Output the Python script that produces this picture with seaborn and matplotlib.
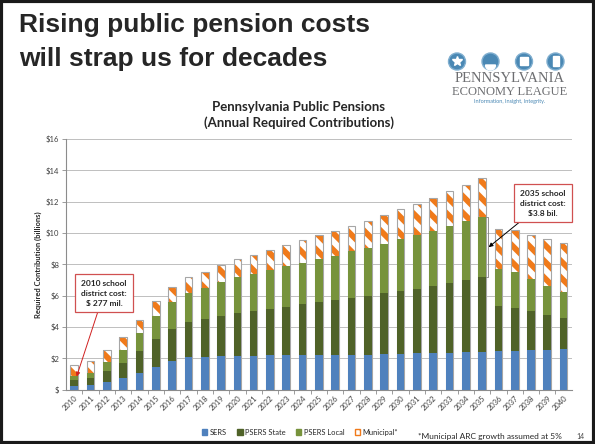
import matplotlib
matplotlib.use("Agg")
import matplotlib.pyplot as plt
import matplotlib.patches as mpatches
from matplotlib.ticker import FuncFormatter
import pandas as pd
import seaborn as sns

# Data (billions of dollars)
years = [str(y) for y in range(2010, 2041)]
sers = [0.23, 0.32, 0.51, 0.77, 1.09, 1.43, 1.81, 2.09, 2.10, 2.13, 2.17,
        2.17, 2.19, 2.21, 2.23, 2.23, 2.20, 2.20, 2.25, 2.28, 2.30,
        2.34, 2.36, 2.38, 2.43, 2.43, 2.49, 2.49, 2.55, 2.57, 2.62]
psers_state = [0.37, 0.42, 0.66, 0.97, 1.36, 1.80, 2.06, 2.23, 2.41, 2.55, 2.72,
               2.85, 2.96, 3.07, 3.22, 3.37, 3.50, 3.65, 3.71, 3.87, 4.00,
               4.11, 4.26, 4.41, 4.55, 4.74, 2.83, 2.72, 2.47, 2.20, 1.98]
psers_local = [0.30, 0.36, 0.60, 0.81, 1.17, 1.49, 1.73, 1.85, 1.96, 2.17, 2.30,
               2.38, 2.47, 2.59, 2.66, 2.76, 2.85, 2.98, 3.10, 3.17, 3.30,
               3.42, 3.53, 3.66, 3.76, 3.87, 2.38, 2.28, 2.04, 1.87, 1.63]
municipal = [0.70, 0.75, 0.76, 0.83, 0.85, 0.94, 0.97, 1.02, 1.06, 1.11, 1.15,
             1.20, 1.27, 1.36, 1.42, 1.51, 1.60, 1.62, 1.73, 1.83, 1.91,
             2.00, 2.11, 2.21, 2.35, 2.45, 2.53, 2.70, 2.81, 2.96, 3.13]

df = pd.DataFrame({"year": years, "sers": sers, "state": psers_state,
                   "local": psers_local, "muni": municipal})
df["c_sers"] = df["sers"]
df["c_state"] = df["c_sers"] + df["state"]
df["c_local"] = df["c_state"] + df["local"]
df["c_total"] = df["c_local"] + df["muni"]

blue = "#4F81BD"
dark_green = "#4F6228"
light_green = "#77933C"
orange = "#F07A1A"
grey = "#A6A6A6"

sns.set_style("white")
plt.rcParams["font.family"] = ["Lato", "DejaVu Sans"]
plt.rcParams["hatch.linewidth"] = 4.2

fig = plt.figure(figsize=(5.95, 4.44), dpi=100)
ax = fig.add_axes([0.111, 0.122, 0.85, 0.565])

w = 0.47
# stacked bars: draw cumulative totals from top layer down
sns.barplot(data=df, x="year", y="c_total", color="white", saturation=1,
            edgecolor=orange, hatch="\\\\", linewidth=0, width=w, errorbar=None, ax=ax)
sns.barplot(data=df, x="year", y="c_total", color=grey, fill=False,
            linewidth=0.8, width=w, errorbar=None, ax=ax)
sns.barplot(data=df, x="year", y="c_local", color=light_green, saturation=1,
            linewidth=0, width=w, errorbar=None, ax=ax)
sns.barplot(data=df, x="year", y="c_state", color=dark_green, saturation=1,
            linewidth=0, width=w, errorbar=None, ax=ax)
sns.barplot(data=df, x="year", y="c_sers", color=blue, saturation=1,
            linewidth=0, width=w, errorbar=None, ax=ax)

ax.set_xlim(-0.5, len(years) - 0.5)
ax.set_ylim(0, 16)
ax.set_yticks(range(0, 17, 2))
ax.yaxis.set_major_formatter(FuncFormatter(lambda v, p: "$" if v == 0 else f"${int(v)}"))
ax.grid(axis="y", color="#BFBFBF", linewidth=0.7)
ax.set_axisbelow(True)
for s in ["top", "right"]:
    ax.spines[s].set_visible(False)
for s in ["left", "bottom"]:
    ax.spines[s].set_color("#8C8C8C")
    ax.spines[s].set_linewidth(0.8)
ax.tick_params(axis="y", length=3, width=0.6, color="#8C8C8C", labelsize=5.5,
               labelcolor="#404040", pad=2, left=True)
ax.tick_params(axis="x", length=0, labelsize=5.5, labelcolor="#404040", pad=3)
plt.setp(ax.get_xticklabels(), rotation=45, ha="right", rotation_mode="anchor")
# tick marks between categories
ax.set_xticks([i + 0.5 for i in range(len(years) - 1)], minor=True)
ax.tick_params(axis="x", which="minor", length=3, width=0.6, color="#8C8C8C", bottom=True)
ax.set_xlabel("")
ax.set_ylabel("Required Contribution (billions)", fontsize=5.5, fontweight="bold",
              labelpad=3)

ax.set_title("Pennsylvania Public Pensions\n(Annual Required Contributions)",
             fontsize=9.5, fontweight="bold", pad=9, x=0.46, linespacing=1.25)

# bracket on 2035 local segment
i35 = years.index("2035")
bx = i35 + w / 2 + 0.12
y0, y1 = df.loc[i35, "c_state"], df.loc[i35, "c_local"]
ax.plot([bx - 0.1, bx, bx, bx - 0.1], [y1, y1, y0, y0], color="#7F7F7F", lw=0.6)

box = dict(boxstyle="square,pad=0.7", fc="white", ec="#D05050", lw=0.9)
ax.annotate("2010 school\ndistrict cost:\n$ 277 mil.", xy=(0.15, 0.85),
            xytext=(104, 151), textcoords="figure pixels", ha="center", va="center",
            fontsize=6, fontweight="bold", linespacing=1.5, bbox=box,
            arrowprops=dict(arrowstyle="-|>", color="#D02020", lw=0.7,
                            mutation_scale=6, shrinkA=0, shrinkB=0))
ax.annotate("2035 school\ndistrict cost:\n$3.8 bil.", xy=(bx + 0.05, 9.1),
            xytext=(543, 241), textcoords="figure pixels", ha="center", va="center",
            fontsize=6, fontweight="bold", linespacing=1.5, bbox=box,
            arrowprops=dict(arrowstyle="-|>", color="black", lw=0.7,
                            mutation_scale=6, shrinkA=0, shrinkB=0))

# legend
handles = [mpatches.Patch(color=blue, label="SERS"),
           mpatches.Patch(color=dark_green, label="PSERS State"),
           mpatches.Patch(color=light_green, label="PSERS Local"),
           mpatches.Patch(facecolor="white", edgecolor=orange, hatch="\\", label="Municipal*")]
fig.legend(handles=handles, loc="center", bbox_to_anchor=(300 / 595, 1 - 432 / 444),
           ncol=4, frameon=False, fontsize=5.4, handlelength=0.7, handleheight=0.7,
           handletextpad=0.3, columnspacing=1.4)

# slide decoration in pixel coordinates
ov = fig.add_axes([0, 0, 1, 1], zorder=-1)
ov.set_xlim(0, 595)
ov.set_ylim(444, 0)
ov.axis("off")
ov.add_patch(mpatches.Rectangle((1, 1), 593, 442, fill=False, ec="#1A1A1A", lw=3))
ov.text(19, 32, "Rising public pension costs", fontsize=19, fontweight="bold",
        family="Liberation Sans", va="baseline")
ov.text(19, 66, "will strap us for decades", fontsize=19, fontweight="bold",
        family="Liberation Sans", va="baseline")
for cx in [457, 490.5, 524, 555.5]:
    ov.add_patch(mpatches.Circle((cx, 61.5), 8.5, fc="#4A88B4", ec="#7FAECF", lw=1))
ov.plot([457], [61.5], marker="*", color="white", ms=7)
ov.add_patch(mpatches.Wedge((490.5, 65), 5, 0, 180, fc="white"))
ov.add_patch(mpatches.Rectangle((520, 57.5), 8, 8, fc="white"))
ov.add_patch(mpatches.Rectangle((552.5, 56.5), 6, 10, fc="white"))
ov.text(510, 79, "PENNSYLVANIA", family="Liberation Serif", fontsize=10.5,
        color="#6D6E71", ha="center", va="center")
ov.text(510, 92, "ECONOMY LEAGUE", family="Liberation Serif", fontsize=9,
        color="#6D6E71", ha="center", va="center")
ov.text(510, 101.5, "Information, Insight, Integrity.", fontsize=4, color="#4A88B4",
        ha="center", va="center")
ov.text(418, 436, "*Municipal ARC growth assumed at 5%", fontsize=6, va="center")
ov.text(576, 436, "14", fontsize=5, va="center", color="#404040")

fig.savefig("out.png", dpi=100)
